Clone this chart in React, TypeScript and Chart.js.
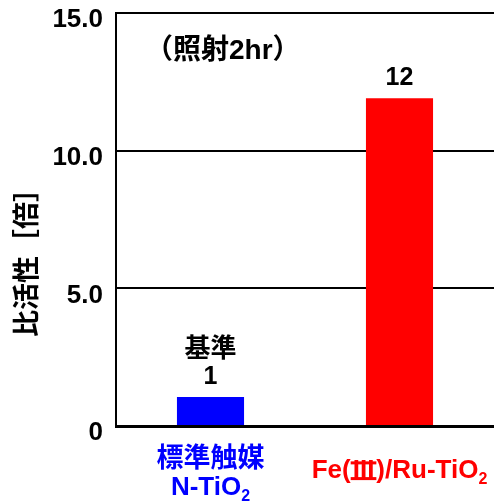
import React, { useEffect, useRef } from "react";
import { Chart, registerables } from "chart.js";

Chart.register(...registerables);

const categories = ["標準触媒|N-TiO2", "Fe(Ⅲ)/Ru-TiO2"];
const values = [1.05, 11.9];
const valueLabels = [["基準", "1"], ["12"]];
const barColors = ["#0000ff", "#ff0000"];
const yTicks = [0, 5, 10, 15];
const yTickLabels = ["0", "5.0", "10.0", "15.0"];
const yTitle = "比活性［倍］";
const chartTitle = "（照射2hr）";

const FONT = '"Liberation Sans", "Noto Sans CJK JP", sans-serif';

// draw a label; "Ⅲ" gets roman-numeral bars, trailing "2" is a subscript
function drawLabel(ctx: CanvasRenderingContext2D, text: string, cx: number, y: number, size: number) {
  const subSize = Math.round(size * 0.62);
  const segs: { t: string; f: string; dy: number; roman?: boolean }[] = [];
  const main = text.slice(0, -1);
  const sub = text.slice(-1);
  let buf = "";
  for (const ch of main) {
    if (ch === "Ⅲ") {
      if (buf) segs.push({ t: buf, f: `bold ${size}px ${FONT}`, dy: 0 });
      buf = "";
      segs.push({ t: "III", f: `bold ${size}px ${FONT}`, dy: 0, roman: true });
    } else buf += ch;
  }
  if (buf) segs.push({ t: buf, f: `bold ${size}px ${FONT}`, dy: 0 });
  segs.push({ t: sub, f: `bold ${subSize}px ${FONT}`, dy: size * 0.33 });
  let total = 0;
  const widths = segs.map((s) => {
    ctx.font = s.f;
    const w = ctx.measureText(s.t).width + (s.roman ? 4 : 0);
    total += w;
    return w;
  });
  let xx = cx - total / 2;
  ctx.textAlign = "left";
  ctx.textBaseline = "middle";
  segs.forEach((s, i) => {
    ctx.font = s.f;
    if (s.roman) {
      ctx.fillText(s.t, xx + 2, y + s.dy);
      const top = y - size * 0.37;
      const bot = y + size * 0.35;
      ctx.fillRect(xx, top, widths[i], 3);
      ctx.fillRect(xx, bot - 3, widths[i], 3);
    } else {
      ctx.fillText(s.t, xx, y + s.dy);
    }
    xx += widths[i];
  });
}

const textPlugin = {
  id: "texts",
  afterDraw(chart: any) {
    const ctx = chart.ctx as CanvasRenderingContext2D;
    const y = chart.scales.y;
    const x = chart.scales.x;
    ctx.save();
    ctx.fillStyle = "#000";
    // y tick labels
    ctx.font = `bold 26px ${FONT}`;
    ctx.textAlign = "right";
    ctx.textBaseline = "middle";
    yTicks.forEach((v, i) => {
      ctx.fillText(yTickLabels[i], chart.chartArea.left - 13, y.getPixelForValue(v) + 7);
    });
    // y title
    ctx.save();
    ctx.translate(29, 256);
    ctx.rotate(-Math.PI / 2);
    ctx.textAlign = "center";
    ctx.font = `bold 27px ${FONT}`;
    ctx.fillText(yTitle, 0, 0);
    ctx.restore();
    // chart title
    ctx.textAlign = "left";
    ctx.font = `bold 28px ${FONT}`;
    ctx.fillText(chartTitle, chart.chartArea.left + 29, 51);
    // value labels
    const meta = chart.getDatasetMeta(0);
    meta.data.forEach((bar: any, i: number) => {
      const lines = valueLabels[i];
      ctx.textAlign = "center";
      lines.forEach((ln, j) => {
        ctx.font = /[\u3000-\u9fff]/.test(ln) ? `bold 26px ${FONT}` : `bold 25px ${FONT}`;
        const off = (lines.length - 1 - j) * 27;
        ctx.fillText(ln, bar.x, bar.y - 20 - off);
      });
    });
    // x labels
    categories.forEach((c, i) => {
      const cx = x.getPixelForValue(i);
      ctx.fillStyle = barColors[i];
      const lines = c.split("|");
      if (lines.length === 2) {
        ctx.textAlign = "center";
        ctx.font = `bold 27px ${FONT}`;
        ctx.fillText(lines[0], cx, 460);
        drawLabel(ctx, lines[1], cx, 488, 26);
      } else {
        drawLabel(ctx, lines[0], cx, 471, 26);
      }
    });
    ctx.restore();
  },
};

export default function App() {
  const ref = useRef<HTMLCanvasElement>(null);
  useEffect(() => {
    document.body.style.margin = "0";
    const chart = new Chart(ref.current!, {
      type: "bar",
      data: {
        labels: categories,
        datasets: [
          {
            data: values,
            backgroundColor: barColors,
            borderWidth: 0,
            barPercentage: 0.355,
            categoryPercentage: 1,
          },
        ],
      },
      options: {
        responsive: false,
        animation: false,
        layout: { padding: { left: 116, top: 13, right: 0, bottom: 76 } },
        plugins: { legend: { display: false }, tooltip: { enabled: false } },
        scales: {
          x: {
            grid: { display: false, drawTicks: false },
            ticks: { display: false },
            border: { display: true, color: "#000", width: 3 },
          },
          y: {
            min: 0,
            max: 15,
            ticks: { display: false, stepSize: 5 },
            grid: { color: "#000", lineWidth: 2, drawTicks: false },
            border: { display: true, color: "#000", width: 2 },
          },
        },
      },
      plugins: [textPlugin],
    });
    return () => chart.destroy();
  }, []);
  return (
    <div style={{ position: "absolute", left: 0, top: 0 }}>
      <canvas ref={ref} width={494} height={502} />
    </div>
  );
}
